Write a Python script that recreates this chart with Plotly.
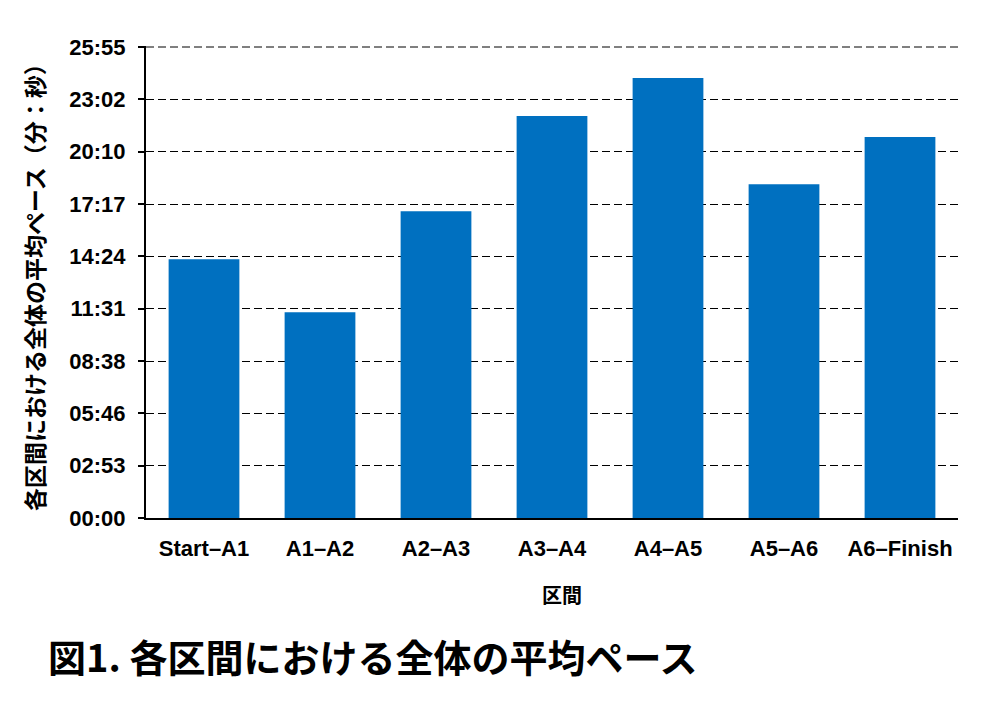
import plotly.graph_objects as go

categories = ["Start–A1", "A1–A2", "A2–A3", "A3–A4", "A4–A5", "A5–A6", "A6–Finish"]
pace_seconds = [854, 679, 1013, 1327, 1453, 1102, 1258]
tick_values = [0, 172.8, 345.6, 518.4, 691.2, 864.0, 1036.8, 1209.6, 1382.4, 1555.2]
tick_labels = ["00:00", "02:53", "05:46", "08:38", "11:31", "14:24", "17:17", "20:10", "23:02", "25:55"]

title_text = "図1. 各区間における全体の平均ペース"
y_title = "各区間における全体の平均ペース（分：秒）"
x_title = "区間"

LATIN = "Liberation Sans, Arial, sans-serif"
CJK = "Noto Sans CJK JP, Noto Sans CJK SC, sans-serif"

# target plot area on screen (page has 8px body margin)
PL, PR, PT, PB = 146, 958, 46, 518
OFF = 8

fig = go.Figure(
    go.Bar(
        x=categories,
        y=pace_seconds,
        marker=dict(color="#0070C0", line=dict(width=0)),
        width=0.61,
        hoverinfo="skip",
    )
)

fig.update_layout(
    width=982,
    height=701,
    margin=dict(l=PL - OFF, r=982 + OFF - PR, t=PT - OFF, b=701 + OFF - PB),
    paper_bgcolor="white",
    plot_bgcolor="white",
    showlegend=False,
    font=dict(family=LATIN, color="black"),
)

fig.update_yaxes(
    range=[0, 1558.5],
    tickmode="array",
    tickvals=tick_values,
    ticktext=["<b>%s</b>" % t for t in tick_labels],
    tickfont=dict(family=LATIN, size=22, color="black"),
    showline=True,
    linecolor="black",
    linewidth=2,
    ticks="outside",
    ticklen=6,
    tickwidth=2,
    tickcolor="black",
    ticklabelstandoff=8,
    showgrid=True,
    gridcolor="black",
    gridwidth=1,
    griddash="8px,4px",
    zeroline=False,
)

fig.update_xaxes(
    tickfont=dict(family=LATIN, size=22, color="black"),
    ticktext=["<b>%s</b>" % c for c in categories],
    tickvals=categories,
    showline=True,
    linecolor="black",
    linewidth=2,
    ticks="",
    ticklabelstandoff=10,
    showgrid=False,
)

# top gridline (Plotly omits the grid line at the range edge)
fig.add_shape(
    type="line", xref="paper", yref="y",
    x0=0, x1=1, y0=tick_values[-1], y1=tick_values[-1],
    line=dict(color="black", width=1, dash="8px,4px"),
    layer="below",
)

W = PR - PL
H = PB - PT

fig.add_annotation(
    text="<b>%s</b>" % x_title,
    xref="paper", yref="paper",
    x=(562 - PL) / W, y=-(594 - PB) / H,
    xanchor="center", yanchor="middle",
    showarrow=False,
    font=dict(family=CJK, size=20, color="black"),
)

fig.add_annotation(
    text="<b>%s</b>" % y_title,
    xref="paper", yref="paper",
    x=-(PL - 34) / W, y=(PB - 282) / H,
    xanchor="center", yanchor="middle",
    textangle=-90,
    showarrow=False,
    font=dict(family=CJK, size=23, color="black"),
)

fig.add_annotation(
    text="<b>%s</b>" % title_text,
    xref="paper", yref="paper",
    x=-(PL - 46) / W, y=-(655 - PB) / H,
    xanchor="left", yanchor="middle",
    showarrow=False,
    font=dict(family=CJK, size=38, color="black"),
)

fig.write_html("out.html")
